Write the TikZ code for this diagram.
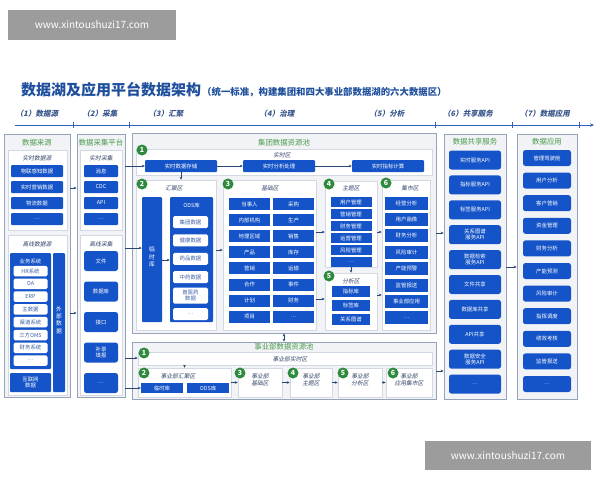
\documentclass[tikz,border=0pt]{standalone}
\usepackage{fontspec}
\setmainfont{Noto Sans CJK SC}
\newfontfamily\slantfont[FakeSlant=0.2]{Noto Sans CJK SC}
\usetikzlibrary{arrows.meta,fit}

\definecolor{boxblue}{HTML}{1554C8}
\definecolor{ringgreen}{HTML}{2E8B3E}
\definecolor{headgreen}{HTML}{4A9A4A}
\definecolor{titleblue}{HTML}{1F4F9C}
\definecolor{stageblue}{HTML}{37558A}
\definecolor{axisblue}{HTML}{2F62B8}
\definecolor{framegray}{HTML}{95A3B8}
\definecolor{framefill}{HTML}{F1F3F6}
\definecolor{panelgray}{HTML}{D3D9E2}
\definecolor{tagcolor}{HTML}{34456A}
\definecolor{subtext}{HTML}{3D5FA8}
\definecolor{arrowblue}{HTML}{2C4672}
\definecolor{markgray}{HTML}{9C9C9C}

\newcommand\cellfont{\fontsize{5.4}{6.4}\selectfont}
\newcommand\tagfont{\slantfont\fontsize{5.8}{6.8}\selectfont}

\tikzset{
  frame/.style={draw=framegray, line width=0.7pt, fill=framefill, inner sep=0pt},
  panel/.style={draw=panelgray, line width=0.5pt, fill=white, inner sep=0pt},
  head/.style={text=headgreen, font=\fontsize{7.4}{8.4}\selectfont, inner sep=0pt},
  tag/.style={text=tagcolor, font=\tagfont, inner sep=0pt, align=center},
  cell/.style={fill=boxblue, text=white, font=\cellfont, inner sep=0pt, align=center, rounded corners=1pt},
  pill/.style={cell, rounded corners=2.5pt},
  block/.style={fill=boxblue, inner sep=0pt, rounded corners=1pt},
  subcell/.style={fill=white, text=subtext, font=\cellfont, inner sep=0pt, align=center, rounded corners=1.5pt},
  ring/.style={circle, fill=ringgreen, text=white, font=\fontsize{7}{7}\selectfont\bfseries, minimum size=11pt, inner sep=0pt},
  flow/.style={-{Stealth[length=3pt,width=2.6pt]}, draw=arrowblue, line width=0.5pt},
  flowboth/.style={{Stealth[length=3pt,width=2.6pt]}-{Stealth[length=3pt,width=2.6pt]}, draw=arrowblue, line width=0.5pt},
  stage/.style={text=stageblue, font=\slantfont\fontsize{7.5}{8.5}\selectfont\bfseries, inner sep=0pt},
  stamp/.style={fill=markgray, inner sep=0pt}
}

\begin{document}
\begin{tikzpicture}[x=1pt,y=-1pt]
\useasboundingbox (0,0) rectangle (600,480);

% watermarks
\node[stamp, fit={(8,10) (176,40)}] (stampTL) {};
\node[text=white, font=\fontsize{10}{12}\selectfont] at (stampTL) {www.xintoushuzi17.com};
\node[stamp, fit={(425,441) (591,470)}] (stampBR) {};
\node[text=white, font=\fontsize{10}{12}\selectfont] at (stampBR) {www.xintoushuzi17.com};

% title
\node[anchor=west, text=titleblue, font=\fontsize{15}{18}\selectfont\bfseries, inner sep=0pt] (title) at (21,90) {数据湖及应用平台数据架构};
\node[anchor=west, text=titleblue, font=\fontsize{9.4}{11}\selectfont\bfseries, inner sep=0pt] (subtitle) at (202,92) {（统一标准，构建集团和四大事业部数据湖的六大数据区）};

% stages
\node[stage] (st1) at (37,114) {（1）数据源};
\node[stage] (st2) at (100,114) {（2）采集};
\node[stage] (st3) at (166,114) {（3）汇聚};
\node[stage] (st4) at (277,114) {（4）治理};
\node[stage] (st5) at (387,114) {（5）分析};
\node[stage] (st6) at (468,114) {（6）共享服务};
\node[stage] (st7) at (545,114) {（7）数据应用};
\coordinate (axisL) at (15,125);
\coordinate (axisR) at (594,125);
\draw[axisblue, line width=0.9pt, -{Stealth[length=4pt,width=3.5pt]}] (axisL) -- (axisR);
\foreach \t in {73,129,435,512,579}
  \draw[axisblue, line width=0.6pt] (\t,122) -- (\t,128);

% level coordinates for arrows
\coordinate (lvlA) at (0,188);
\coordinate (lvlB) at (0,313);
\coordinate (lvlC) at (0,248);
\coordinate (lvlD) at (0,260);
\coordinate (lvlE) at (0,250);
\coordinate (lvlF) at (0,232);
\coordinate (lvlG) at (0,299);
\coordinate (lvlH) at (0,295);
\coordinate (lvlI) at (0,233);
\coordinate (lvlJ) at (0,358);
\coordinate (lvlK) at (0,371);
\coordinate (lvlL) at (0,267);

% outer frames
\node[frame, fit={(4,134) (70,397)}] (srcbox) {};
\node[frame, fit={(77,134) (125,397)}] (colbox) {};
\node[frame, fit={(132,133) (436,333)}] (grppool) {};
\node[frame, fit={(132,342) (436,399)}] (bizpool) {};
\node[frame, fit={(444,134) (506,399)}] (sharebox) {};
\node[frame, fit={(517,134) (577,399)}] (appbox) {};

\node[head] (srchead) at (37,143) {数据来源};
\node[head] (colhead) at (101,143) {数据采集平台};
\node[head] (grphead) at (284,143) {集团数据资源池};
\node[head] (bizhead) at (284,347) {事业部数据资源池};
\node[head] (sharehead) at (475,142) {数据共享服务};
\node[head] (apphead) at (547,142) {数据应用};

% (1) data sources
\node[panel, fit={(8,150) (67,230)}] (rtsrc) {};
\node[tag] (rtsrctag) at (37,158) {实时数据源};
\foreach \txt [count=\i] in {物联感知数据,实时营销数据,物流数据,…}
  \node[cell, minimum width=52pt, minimum height=12pt] (rtsrc\i) at (37,{171+16*(\i-1)}) {\txt};
\node[panel, fit={(8,235) (67,395)}] (offsrc) {};
\node[tag] (offsrctag) at (37,244) {离线数据源};
\node[block, fit={(10,253) (51,369)}] (bizsys) {};
\node[text=white, font=\cellfont, inner sep=0pt] (bizsystag) at (30.5,261) {业务系统};
\foreach \txt [count=\i] in {HR系统,OA,ERP,主数据,渠道系统,三方OMS,财务系统,…}
  \node[subcell, minimum width=34pt, minimum height=10.5pt] (bizsys\i) at (30.5,{271+12.8*(\i-1)}) {\txt};
\node[cell, minimum width=41pt, minimum height=19pt] (netdata) at (30.5,382.5) {互联网\\数据};
\node[cell, fit={(53,253) (65,392)}, font=\fontsize{5.8}{7.4}\selectfont] (extdata) {外\\部\\数\\据};

% (2) collection
\node[panel, fit={(80,150) (122,230)}] (rtcol) {};
\node[tag] (rtcoltag) at (101,158) {实时采集};
\foreach \txt [count=\i] in {消息,CDC,API,…}
  \node[cell, minimum width=34pt, minimum height=12pt] (rtcol\i) at (101,{171+16*(\i-1)}) {\txt};
\node[panel, fit={(80,235) (122,395)}] (offcol) {};
\node[tag] (offcoltag) at (101,244) {离线采集};
\foreach \txt [count=\i] in {文件,数据库,接口,{补录\\填报},…}
  \node[pill, minimum width=34pt, minimum height=20pt] (offcol\i) at (101,{261+30.5*(\i-1)}) {\txt};

\draw[flow] (srcbox.east |- lvlA) -- (colbox.west |- lvlA);
\draw[flow] (srcbox.east |- lvlB) -- (colbox.west |- lvlB);

% group pool: realtime zone
\node[panel, fit={(136,149) (432,175)}] (rtzone) {};
\node[tag] (rtzonetag) at (282,155) {实时区};
\node[cell, minimum width=72pt, minimum height=12pt] (rtstore) at (181,166) {实时数据存储};
\node[cell, minimum width=72pt, minimum height=12pt] (rtproc) at (279,166) {实时分析处理};
\node[cell, minimum width=72pt, minimum height=12pt] (rtcalc) at (388,166) {实时指标计算};
\draw[flow] (rtstore) -- (rtproc);
\draw[flow] (rtproc) -- (rtcalc);
\draw[flow] (colbox.east |- rtstore) -- (rtstore.west);

% zone 2
\node[panel, fit={(136,180) (216,330)}] (gatherzone) {};
\node[tag] (gathertag) at (174,188) {汇聚区};
\node[cell, fit={(142,197) (162,322)}, font=\fontsize{5.8}{7.6}\selectfont] (tmpstore) {临\\时\\库};
\node[block, fit={(170,197) (213,322)}] (odsstore) {};
\node[text=white, font=\cellfont, inner sep=0pt] (odstag) at (191.5,205) {ODS库};
\foreach \txt/\hh [count=\i] in {集团数据/12,健康数据/12,药品数据/12,中药数据/12,{兽医药\\数据}/16,…/12}
  \node[subcell, minimum width=35pt, minimum height=\hh pt] (ods\i) at (190.5,{222+18.4*(\i-1)}) {\txt};
\draw[flow] (tmpstore.east |- lvlD) -- (odsstore.west |- lvlD);
\draw[flow] (rtstore.south) -- (rtstore.south |- gatherzone.north);

% zone 3
\node[panel, fit={(223,180) (316,330)}] (basezone) {};
\node[tag] (basetag) at (270,188) {基础区};
\foreach \lt/\rt [count=\i] in {当事人/采购,内部机构/生产,地理区域/销售,产品/库存,营销/运输,合作/事件,计划/财务,项目/…} {
  \node[cell, rounded corners=0pt, minimum width=41pt, minimum height=12pt] (baseL\i) at (249.5,{204+16.1*(\i-1)}) {\lt};
  \node[cell, rounded corners=0pt, minimum width=41pt, minimum height=12pt] (baseR\i) at (293.5,{204+16.1*(\i-1)}) {\rt};
}
\draw[flow] (gatherzone.east |- lvlE) -- (basezone.west |- lvlE);

% zone 4
\node[panel, fit={(325,181) (377,267)}] (themezone) {};
\node[tag] (themetag) at (351,188) {主题区};
\foreach \txt [count=\i] in {用户管理,营销管理,财务管理,运营管理,风险管理,…}
  \node[cell, rounded corners=0pt, minimum width=41pt, minimum height=10pt] (theme\i) at (351,{202+12*(\i-1)}) {\txt};

% zone 5
\node[panel, fit={(325,273) (377,330)}] (analyzone) {};
\node[tag] (analytag) at (351,281) {分析区};
\foreach \txt [count=\i] in {指标库,标签库,关系图谱}
  \node[cell, rounded corners=0pt, minimum width=38pt, minimum height=11pt] (analy\i) at (351,{291+14*(\i-1)}) {\txt};

% zone 6
\node[panel, fit={(382,180) (430,330)}] (martzone) {};
\node[tag] (marttag) at (410,188) {集市区};
\foreach \txt [count=\i] in {经营分析,用户画像,财务分析,风险审计,产能预警,监管报送,事业部应用,…}
  \node[cell, rounded corners=0pt, minimum width=43pt, minimum height=13pt] (mart\i) at (406.5,{203+16.4*(\i-1)}) {\txt};

\draw[flow] (basezone.east |- lvlF) -- (themezone.west |- lvlF);
\draw[flow] (basezone.east |- lvlG) -- (analyzone.west |- lvlG);
\draw[flow] (themezone.south) -- (analyzone.north);
\draw[flow] (themezone.east |- lvlF) -- (martzone.west |- lvlF);
\draw[flow] (analyzone.east |- lvlH) -- (martzone.west |- lvlH);

\node[ring] (grpring1) at (142,150) {1};
\node[ring] (grpring2) at (142,184) {2};
\node[ring] (grpring3) at (228,184) {3};
\node[ring] (grpring4) at (329,184) {4};
\node[ring] (grpring5) at (329,276) {5};
\node[ring] (grpring6) at (386,183) {6};

\draw[flow] (grppool.east |- lvlI) -- (sharebox.west |- lvlI);
\draw[flowboth] (grppool.south) -- (bizpool.north);

% business unit pool
\node[panel, fit={(138,352) (432,365)}] (bizrt) {};
\node[tag] (bizrttag) at (290,359) {事业部实时区};
\node[panel, fit={(138,368) (231,397)}] (bizgather) {};
\node[tag] (bizgathertag) at (178,376) {事业部汇聚区};
\node[cell, rounded corners=0pt, minimum width=42pt, minimum height=10pt] (biztmp) at (162,388) {临时库};
\node[cell, rounded corners=0pt, minimum width=42pt, minimum height=10pt] (bizods) at (208,388) {ODS库};
\node[panel, fit={(238,368) (282,397)}, font=\tagfont, text=tagcolor, align=center] (bizbase) {事业部\\基础区};
\node[panel, fit={(290,368) (332,397)}, font=\tagfont, text=tagcolor, align=center] (biztheme) {事业部\\主题区};
\node[panel, fit={(338,368) (382,397)}, font=\tagfont, text=tagcolor, align=center] (bizanaly) {事业部\\分析区};
\node[panel, fit={(386,368) (432,397)}, font=\tagfont, text=tagcolor, align=center] (bizmart) {事业部\\应用集市区};
\draw[flow] (bizrt.south -| bizgather.north) -- (bizgather.north);
\draw[flow] (bizgather) -- (bizbase);
\draw[flow] (bizbase) -- (biztheme);
\draw[flow] (biztheme) -- (bizanaly);
\draw[flow] (bizanaly) -- (bizmart);

\node[ring] (bizring1) at (144,353) {1};
\node[ring] (bizring2) at (144,373) {2};
\node[ring] (bizring3) at (240,373) {3};
\node[ring] (bizring4) at (293,373) {4};
\node[ring] (bizring5) at (343,373) {5};
\node[ring] (bizring6) at (393,373) {6};

\draw[flow] (colbox.east |- lvlJ) -- (bizrt.west |- lvlJ);
\draw[flow] (colbox.east |- biztmp) -- (biztmp.west);
\draw[flow] (colbox.east |- lvlC) -- (tmpstore.west |- lvlC);
\draw[flow] (bizpool.east |- lvlK) -- (sharebox.west |- lvlK);

% (6) shared services
\foreach \txt [count=\i] in {实时服务API,指标服务API,标签服务API,{关系图谱\\服务API},{数据检索\\服务API},文件共享,数据库共享,API共享,{数据安全\\服务API},…}
  \node[pill, minimum width=52pt, minimum height=19pt] (share\i) at (475,{160+24.9*(\i-1)}) {\txt};

% (7) applications
\foreach \txt [count=\i] in {管理驾驶舱,用户分析,客户营销,资金管理,财务分析,产能预测,风险审计,指挥调度,绩效考核,监管报送,…}
  \node[pill, minimum width=48pt, minimum height=16pt] (app\i) at (547,{158+22.6*(\i-1)}) {\txt};

\draw[flow] (sharebox.east |- lvlL) -- (appbox.west |- lvlL);
\end{tikzpicture}
\end{document}
